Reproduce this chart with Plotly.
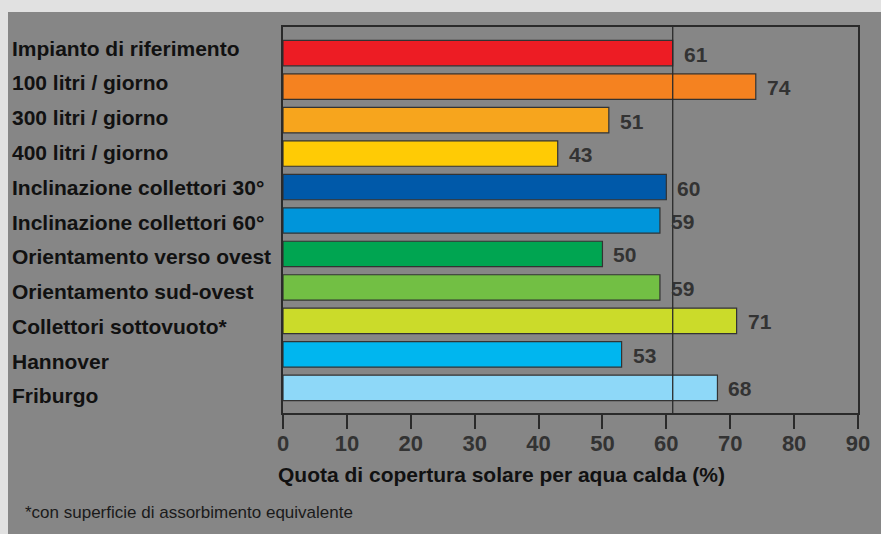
import plotly.graph_objects as go

categories = [
    "Impianto di riferimento",
    "100 litri / giorno",
    "300 litri / giorno",
    "400 litri / giorno",
    "Inclinazione collettori 30°",
    "Inclinazione collettori 60°",
    "Orientamento verso ovest",
    "Orientamento sud-ovest",
    "Collettori sottovuoto*",
    "Hannover",
    "Friburgo",
]
values = [61, 74, 51, 43, 60, 59, 50, 59, 71, 53, 68]
colors = ["#ed1c24", "#f58220", "#f7a51d", "#ffcb05", "#0059a9", "#0095da",
          "#00a551", "#72bf44", "#cbdb2a", "#00b6ef", "#8ed8f8"]
reference_value = 61
x_ticks = [0, 10, 20, 30, 40, 50, 60, 70, 80, 90]
x_title = "Quota di copertura solare per aqua calda (%)"
footnote = "*con superficie di assorbimento equivalente"

W, H = 881, 534
L, R, T, B = 283, 23, 27, 121
pw, ph = W - L - R, H - T - B
FONT = "Liberation Sans, Arial, Helvetica"

def px2x(px):
    return (px - L) / pw

def py2y(py):
    return (H - B - py) / ph

idx = list(range(len(categories)))

fig = go.Figure()
fig.add_trace(go.Bar(
    x=values, y=idx, orientation="h", width=0.76,
    marker=dict(color=colors, line=dict(color="#333333", width=1.2)),
    hoverinfo="skip",
))

annotations = []
for i, (c, v) in enumerate(zip(categories, values)):
    annotations.append(dict(
        x=v, y=i, xref="x", yref="y", text=f"<b>{v}</b>", showarrow=False,
        xanchor="left", xshift=9, yshift=-1,
        font=dict(family=FONT, size=21, color="#333333"),
    ))
    annotations.append(dict(
        x=px2x(10), y=i, xref="paper", yref="y", text=f"<b>{c}</b>", showarrow=False,
        xanchor="left", yshift=5 - 1.3 * i,
        font=dict(family=FONT, size=21, color="#111111"),
    ))
annotations.append(dict(
    x=px2x(501), y=py2y(474), xref="paper", yref="paper", text=f"<b>{x_title}</b>",
    showarrow=False, xanchor="center", yanchor="middle",
    font=dict(family=FONT, size=21, color="#111111"),
))
annotations.append(dict(
    x=px2x(23), y=py2y(512), xref="paper", yref="paper", text=footnote,
    showarrow=False, xanchor="left", yanchor="middle",
    font=dict(family=FONT, size=17, color="#1a1a1a"),
))

shapes = [
    dict(type="rect", xref="paper", yref="paper", x0=px2x(8), x1=px2x(W + 5),
         y0=py2y(H + 5), y1=py2y(12), fillcolor="#868686", line=dict(width=0),
         layer="below"),
    dict(type="line", xref="x", yref="paper", x0=reference_value, x1=reference_value,
         y0=0, y1=1, line=dict(color="#2a2a2a", width=1.3), layer="above"),
]

fig.update_layout(
    width=W, height=H,
    margin=dict(l=L, r=R, t=T, b=B),
    paper_bgcolor="#e1e1e1",
    plot_bgcolor="#868686",
    showlegend=False,
    annotations=annotations,
    shapes=shapes,
    xaxis=dict(
        range=[0, 90], tickvals=x_ticks, ticktext=[f"<b>{t}</b>" for t in x_ticks],
        ticks="outside", ticklen=14, tickwidth=1.5, tickcolor="#2a2a2a",
        ticklabelstandoff=-4,
        showgrid=False, zeroline=False,
        showline=True, linecolor="#2a2a2a", linewidth=1.5, mirror=True,
        tickfont=dict(family=FONT, size=22, color="#333333"),
    ),
    yaxis=dict(
        range=[10.75, -0.78], showticklabels=False, ticks="",
        showgrid=False, zeroline=False,
        showline=True, linecolor="#2a2a2a", linewidth=1.5, mirror=True,
    ),
)

fig.write_html("out.html", config={"displayModeBar": False},
               post_script="document.body.style.margin='0';document.body.style.padding='0';")
